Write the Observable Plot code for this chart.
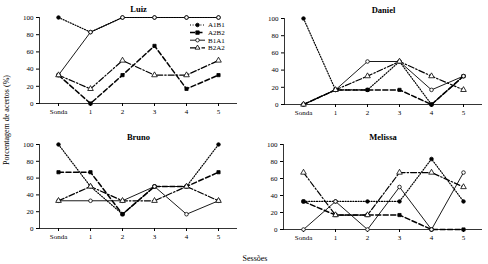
<!DOCTYPE html>
<html><head><meta charset="utf-8">
<script src="https://cdn.jsdelivr.net/npm/d3@7"></script>
<script src="https://cdn.jsdelivr.net/npm/@observablehq/plot@0.6"></script>
<style>
body{margin:0;background:#fff;}
#wrap{position:relative;width:488px;height:264px;font-family:"Liberation Serif","Times New Roman",serif;color:#000;}
.panel{position:absolute;}
.lab{position:absolute;font-size:8px;white-space:nowrap;}
</style></head><body><div id="wrap"></div>
<script>
const sessions = ["Sonda", "1", "2", "3", "4", "5"];
const series = ["A1B1", "A2B2", "B1A1", "B2A2"];
const yTicks = [0, 20, 40, 60, 80, 100];
// values per series, in the order of `series`
const luiz = [
  [100, 83, 100, 100, 100, 100],
  [33, 0, 33, 67, 17, 33],
  [33, 83, 100, 100, 100, 100],
  [33, 17, 50, 33, 33, 50]
];
const daniel = [
  [100, 17, 17, 50, 0, 33],
  [0, 17, 17, 17, 0, 33],
  [0, 17, 50, 50, 17, 33],
  [0, 17, 33, 50, 33, 17]
];
const bruno = [
  [100, 50, 17, 50, 50, 100],
  [67, 67, 17, 50, 50, 67],
  [33, 33, 33, 50, 17, 33],
  [33, 50, 33, 33, 50, 33]
];
const melissa = [
  [33, 33, 33, 33, 83, 33],
  [33, 17, 17, 17, 0, 0],
  [0, 33, 0, 50, 0, 67],
  [67, 17, 17, 67, 67, 50]
];

const style = {
  A1B1: {dash: "1,1.6", symbol: "circle", fill: "#000", width: 1.2},
  A2B2: {dash: "5,2.5", symbol: "square", fill: "#000", width: 1.5},
  B1A1: {dash: null, symbol: "circle", fill: "#fff", width: 0.9},
  B2A2: {dash: "6,2,1.5,2", symbol: "triangle", fill: "#fff", width: 1.2}
};

const wrap = document.getElementById("wrap");

function panel(name, values, left, top, height, mt, mb, ml, mr, titleDy) {
  const rows = [];
  series.forEach((s, i) => sessions.forEach((x, j) => rows.push({s, x, y: values[i][j]})));
  const marks = [
    Plot.ruleY([0], {stroke: "#000", strokeWidth: 0.8}),
    Plot.frame({anchor: "left", stroke: "#000", strokeWidth: 0.8}),
    Plot.axisX({tickSize: 3, tickPadding: 3, fontSize: 7, label: null, stroke: "#000"}),
    Plot.axisY({ticks: yTicks, tickSize: 3, tickPadding: 3, fontSize: 7, label: null, stroke: "#000"})
  ];
  for (const s of series) {
    const st = style[s];
    const d = rows.filter(r => r.s === s);
    marks.push(Plot.line(d, {x: "x", y: "y", stroke: "#000", strokeWidth: st.width, strokeDasharray: st.dash}));
    marks.push(Plot.dot(d, {x: "x", y: "y", symbol: st.symbol, r: st.symbol === "triangle" ? 2.1 : 1.8, fill: st.fill, stroke: "#000", strokeWidth: 0.8}));
  }
  marks.push(Plot.text([name], {text: d => d, frameAnchor: "top", dy: titleDy, fontWeight: "bold", fontSize: 8.5}));
  const p = Plot.plot({
    width: 244, height,
    marginTop: mt, marginBottom: mb, marginLeft: ml, marginRight: mr,
    style: {fontFamily: '"Liberation Serif", serif', color: "#000", background: "transparent", overflow: "visible"},
    x: {type: "point", domain: sessions, padding: 0.53},
    y: {domain: [0, 100]},
    marks
  });
  const div = document.createElement("div");
  div.className = "panel";
  div.style.left = left + "px";
  div.style.top = top + "px";
  div.appendChild(p);
  wrap.appendChild(div);
  return div;
}

const lz = panel("Luiz", luiz, 0, 0, 125, 17, 22, 39, 7, -12);
panel("Daniel", daniel, 244, 0, 125, 18, 21, 40, 6, -12);
panel("Bruno", bruno, 0, 125, 139, 19, 36, 39, 7, -11);
panel("Melissa", melissa, 244, 125, 139, 19, 35, 39, 6, -11);

// legend inside the Luiz panel
const lg = d3.select(lz).append("svg")
  .attr("width", 60).attr("height", 36)
  .style("position", "absolute").style("left", "188px").style("top", "20px");
series.forEach((s, i) => {
  const st = style[s];
  const y = 5 + i * 7.6;
  lg.append("line").attr("x1", 2).attr("x2", 17).attr("y1", y).attr("y2", y)
    .attr("stroke", "#000").attr("stroke-width", st.width).attr("stroke-dasharray", st.dash);
  const sym = d3.symbol().type(st.symbol === "square" ? d3.symbolSquare : st.symbol === "triangle" ? d3.symbolTriangle : d3.symbolCircle).size(st.symbol === "square" ? 12 : 10);
  lg.append("path").attr("d", sym()).attr("transform", `translate(9.5,${y})`)
    .attr("fill", st.fill).attr("stroke", "#000").attr("stroke-width", 0.8);
  lg.append("text").attr("x", 20).attr("y", y).attr("dy", "0.35em")
    .attr("font-size", 7).attr("font-family", '"Liberation Serif", serif').text(s);
});

const yl = document.createElement("div");
yl.className = "lab";
yl.textContent = "Porcentagem de acertos (%)";
yl.style.left = "6px"; yl.style.top = "120px";
yl.style.transform = "translate(-50%,-50%) rotate(-90deg)";
wrap.appendChild(yl);

const xl = document.createElement("div");
xl.className = "lab";
xl.textContent = "Sessões";
xl.style.left = "255px"; xl.style.top = "258px";
xl.style.transform = "translate(-50%,-50%)";
wrap.appendChild(xl);
</script></body></html>
